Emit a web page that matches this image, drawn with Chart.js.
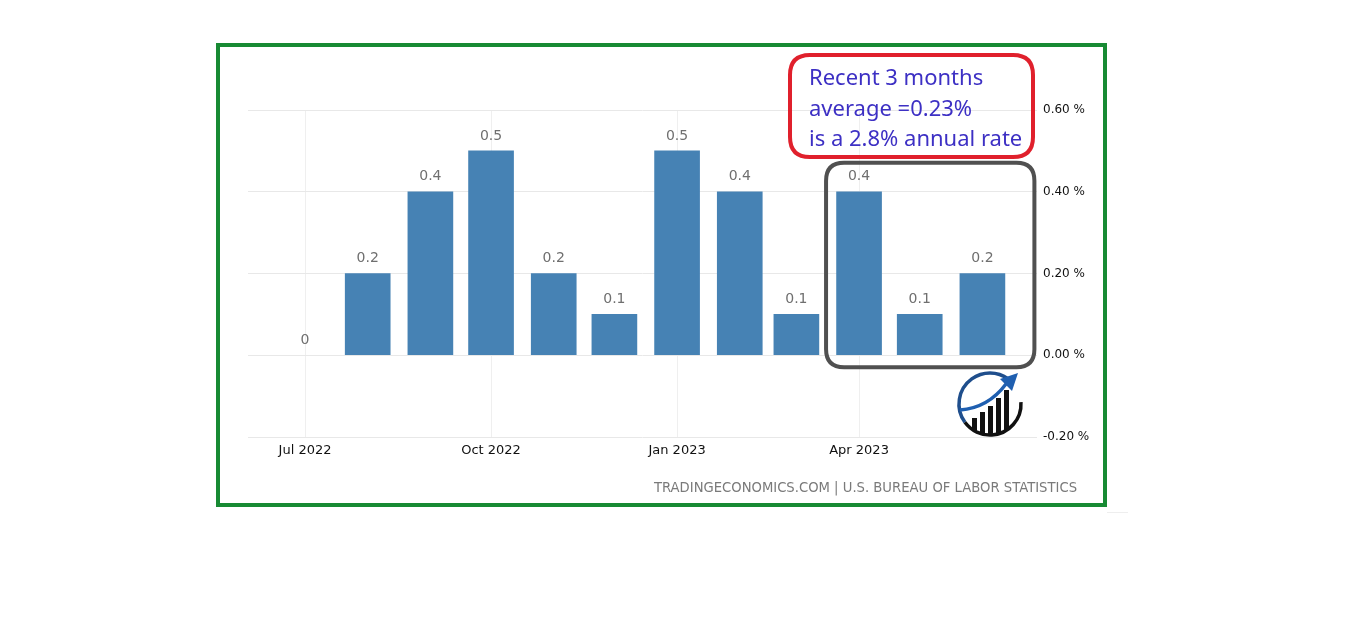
<!DOCTYPE html>
<html><head><meta charset="utf-8">
<script src="https://cdn.jsdelivr.net/npm/chart.js@4.4.0/dist/chart.umd.min.js"></script>
<style>html,body{margin:0;padding:0;background:#fff;}#wrap{position:relative;width:1350px;height:619px;}</style>
</head><body><div id="wrap"><canvas id="c" width="1350" height="619"></canvas></div>
<script>
// Data
const categories = ["2022-07","2022-08","2022-09","2022-10","2022-11","2022-12","2023-01","2023-02","2023-03","2023-04","2023-05","2023-06"];
const values = [0, 0.2, 0.4, 0.5, 0.2, 0.1, 0.5, 0.4, 0.1, 0.4, 0.1, 0.2];
const xTickCats = ["2022-07","2022-10","2023-01","2023-04"];
const xTickLabels = ["Jul 2022","Oct 2022","Jan 2023","Apr 2023"];
const yTicks = [-0.2, 0, 0.2, 0.4, 0.6];
const noteLines = ["Recent 3 months","average =0.23%","is a 2.8% annual rate"];
const sourceText = "TRADINGECONOMICS.COM | U.S. BUREAU OF LABOR STATISTICS";

const base = Date.UTC(2022,6,1);
function dayOf(s){const [y,m]=s.split("-").map(Number);return (Date.UTC(y,m-1,1)-base)/86400000;}
const points = categories.map((c,i)=>({x:dayOf(c),y:values[i]}));

function rr(ctx,x,y,w,h,r){ctx.beginPath();ctx.moveTo(x+r,y);ctx.lineTo(x+w-r,y);ctx.quadraticCurveTo(x+w,y,x+w,y+r);ctx.lineTo(x+w,y+h-r);ctx.quadraticCurveTo(x+w,y+h,x+w-r,y+h);ctx.lineTo(x+r,y+h);ctx.quadraticCurveTo(x,y+h,x,y+h-r);ctx.lineTo(x,y+r);ctx.quadraticCurveTo(x,y,x+r,y);ctx.closePath();}

const deco = {
  id:'deco',
  afterDatasetsDraw(chart){
    const ctx=chart.ctx, xs=chart.scales.x, ys=chart.scales.y;
    ctx.save();
    // value labels
    ctx.font='14px "DejaVu Sans"'; ctx.fillStyle='#6f6f6f'; ctx.textAlign='center'; ctx.textBaseline='middle';
    points.forEach(p=>{ctx.fillText(String(p.y), xs.getPixelForValue(p.x), ys.getPixelForValue(p.y)-15);});
    // gray box around last 3 bars
    const l=xs.getPixelForValue(points[9].x)-33, r=xs.getPixelForValue(points[11].x)+52;
    const t=ys.getPixelForValue(values[9])-29, b=ys.getPixelForValue(0)+12;
    ctx.strokeStyle='#505050'; ctx.lineWidth=4; rr(ctx,l,t,r-l,b-t,18); ctx.stroke();
    // red note box
    ctx.strokeStyle='#e0202c'; ctx.lineWidth=4; rr(ctx,790,55,243,102,20); ctx.stroke();
    ctx.fillStyle='#3d30c4'; ctx.font='22px "Noto Sans"'; ctx.textAlign='left';
    noteLines.forEach((s,i)=>ctx.fillText(s,809,79+i*30.5));
    // logo
    const cx=990, cy=404, R=31;
    ctx.lineWidth=3.5;
    ctx.strokeStyle='#1f4e8c'; ctx.beginPath(); ctx.arc(cx,cy,R,Math.PI*0.8,Math.PI*1.7); ctx.stroke();
    ctx.strokeStyle='#111'; ctx.beginPath(); ctx.arc(cx,cy,R,-0.02*Math.PI,0.8*Math.PI); ctx.stroke();
    ctx.fillStyle='#111';
    ctx.save(); ctx.beginPath(); ctx.arc(cx,cy,R-1,0,Math.PI*2); ctx.clip();
    const bx=[-18,-10,-2,6,14], bt=[14,8,2,-6,-14];
    bx.forEach((dx,i)=>ctx.fillRect(cx+dx,cy+bt[i],5,R+10));
    ctx.restore();
    ctx.strokeStyle='#1f5fb0'; ctx.lineWidth=3.5; ctx.beginPath(); ctx.moveTo(cx-30,cy+6); ctx.quadraticCurveTo(cx-2,cy+4,cx+16,cy-20); ctx.stroke();
    ctx.fillStyle='#1f5fb0'; ctx.beginPath(); ctx.moveTo(cx+28,cy-31); ctx.lineTo(cx+10,cy-25); ctx.lineTo(cx+22,cy-13); ctx.closePath(); ctx.fill();
    // source
    ctx.fillStyle='#7a7a7a'; ctx.font='13.2px "DejaVu Sans"'; ctx.textAlign='right';
    ctx.fillText(sourceText,1077,489);
    // green border
    ctx.strokeStyle='#178a33'; ctx.lineWidth=4; ctx.strokeRect(218,45,887,460);
    ctx.strokeStyle='#eeeeee'; ctx.lineWidth=1; ctx.beginPath(); ctx.moveTo(1107,512.5); ctx.lineTo(1128,512.5); ctx.stroke();
    ctx.restore();
  }
};

new Chart(document.getElementById('c'),{
  type:'bar',
  data:{datasets:[{data:points,backgroundColor:(c)=>(c.raw&&c.raw.y===0)?'rgba(0,0,0,0)':'#4682b4',barThickness:45,borderWidth:0}]},
  options:{
    responsive:false,animation:false,
    layout:{padding:{left:248,top:110,right:0,bottom:0}},
    plugins:{legend:{display:false},tooltip:{enabled:false}},
    scales:{
      x:{type:'linear',min:-28.2,max:362,offset:false,
        afterBuildTicks(ax){ax.ticks=xTickCats.map(c=>({value:dayOf(c)}));},
        afterFit(ax){ax.height=619-437;},
        ticks:{callback:(v)=>{const i=xTickCats.findIndex(c=>dayOf(c)===v);return i>=0?xTickLabels[i]:'';},color:'#111',font:{family:'DejaVu Sans',size:13},padding:6,maxRotation:0,autoSkip:false},
        grid:{color:'#efefef',drawTicks:false,offset:false},border:{display:false}},
      y:{position:'right',min:-0.2,max:0.6,
        afterBuildTicks(ax){ax.ticks=yTicks.map(v=>({value:v}));},
        afterFit(ax){ax.width=1350-1037;},
        ticks:{callback:(v)=>v.toFixed(2)+' %',color:'#111',font:{family:'DejaVu Sans',size:12},padding:6},
        grid:{color:'#e8e8e8',drawTicks:false},border:{display:false}}
    }
  },
  plugins:[deco]
});
</script></body></html>
